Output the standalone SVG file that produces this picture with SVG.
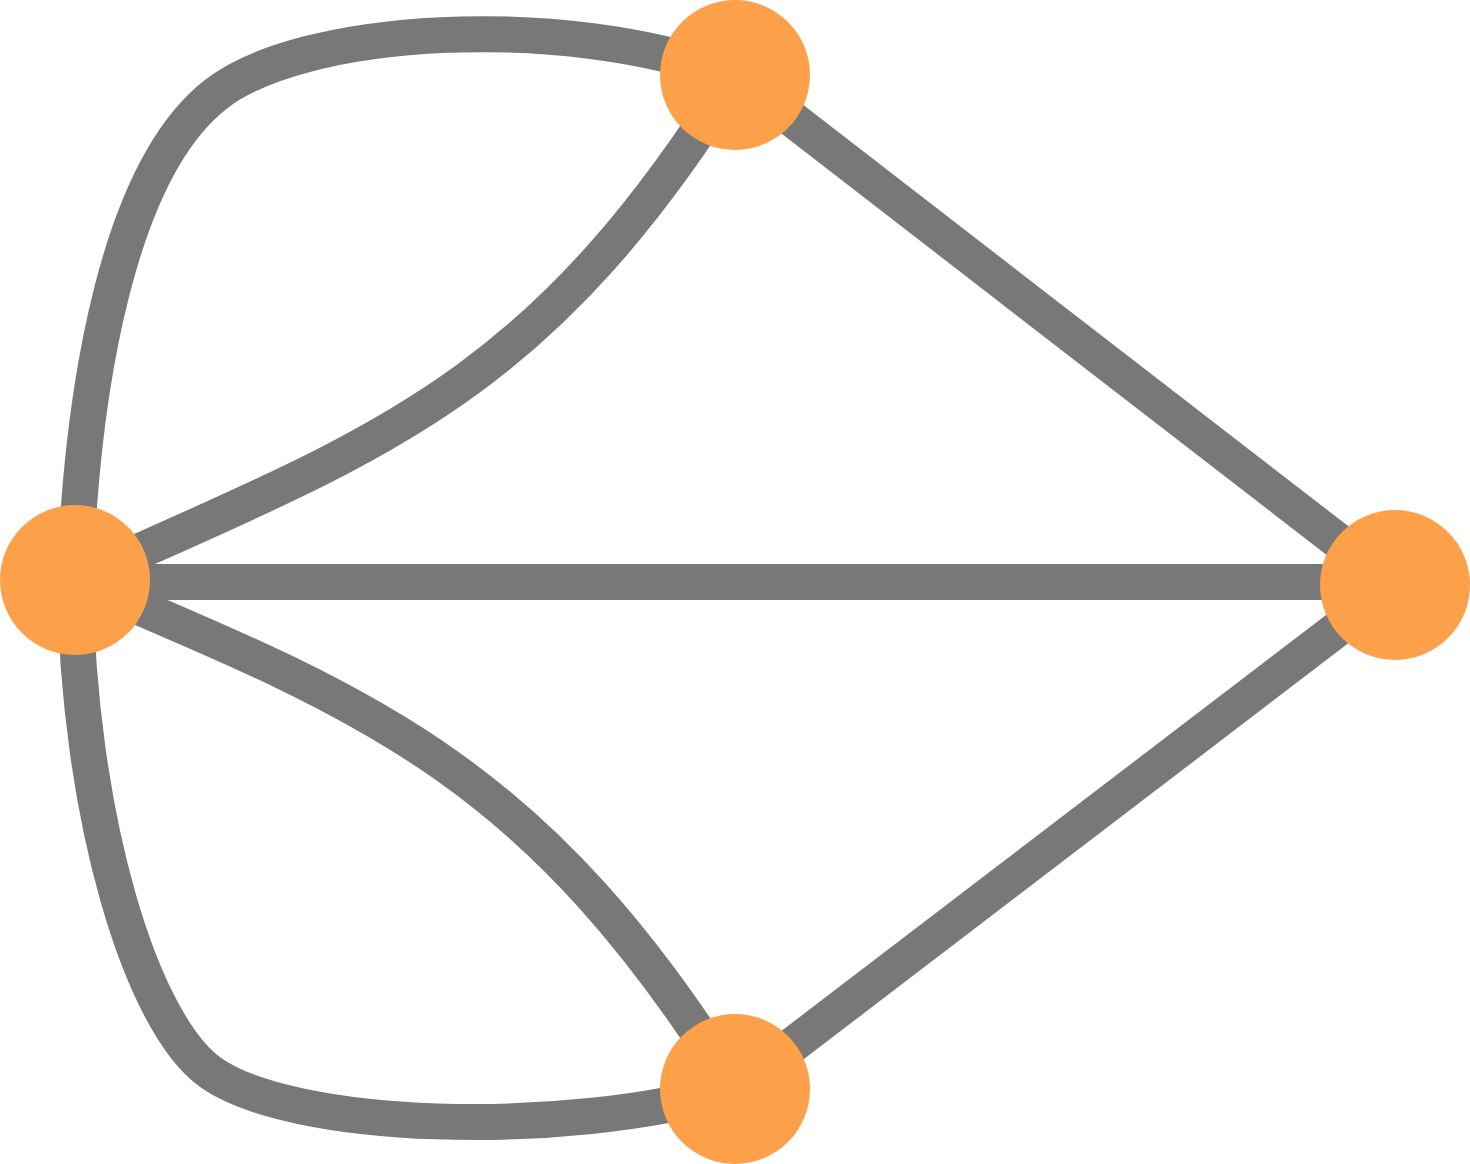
<svg xmlns="http://www.w3.org/2000/svg" width="1470" height="1164" viewBox="0 0 1470 1164">
  <style>
    .edge { fill: none; stroke: #787878; stroke-width: 36; }
    .node { fill: #fca04a; }
  </style>
  <rect width="1470" height="1164" fill="#ffffff"/>
  <g id="connectors">
    <path class="edge" d="M75,580 C82,380 120,170 215,95 C300,27 560,10 735,75"/>
    <path class="edge" d="M75,580 C375,445 535,395 735,75"/>
    <path class="edge" d="M75,582 L1395,582"/>
    <path class="edge" d="M75,580 C370,705 535,769 735,1089"/>
    <path class="edge" d="M75,580 C78,820 142,1023 210,1072 C290,1130 560,1140 735,1089"/>
    <path class="edge" d="M735,75 L1395,585"/>
    <path class="edge" d="M1395,585 L735,1089"/>
  </g>
  <g id="node-top"><circle class="node" cx="735" cy="75" r="75"/></g>
  <g id="node-left"><circle class="node" cx="75" cy="580" r="75"/></g>
  <g id="node-right"><circle class="node" cx="1395" cy="585" r="75"/></g>
  <g id="node-bottom"><circle class="node" cx="735" cy="1089" r="75"/></g>
</svg>
